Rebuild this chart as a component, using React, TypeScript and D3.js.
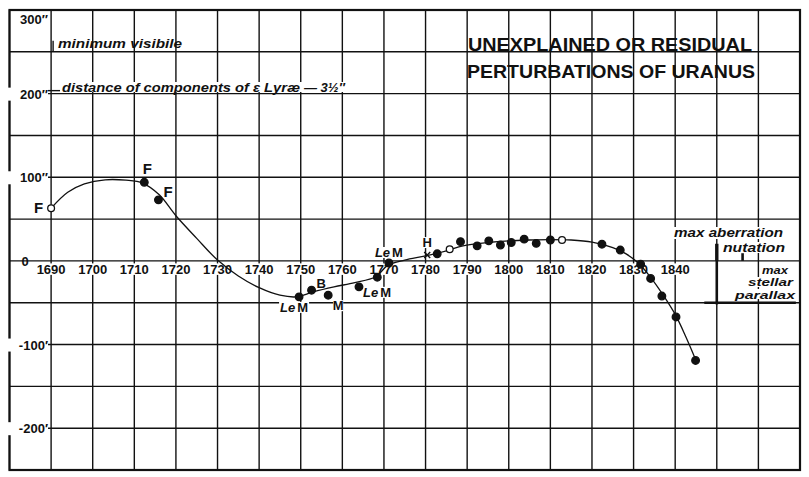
import React from 'react';
import * as d3 from 'd3';

// ---- data ----
const gridYears = [1680, 1690, 1700, 1710, 1720, 1730, 1740, 1750, 1760, 1770, 1780, 1790, 1800, 1810, 1820, 1830, 1840, 1850, 1860, 1870];
const yearTicks = [1690, 1700, 1710, 1720, 1730, 1740, 1750, 1760, 1770, 1780, 1790, 1800, 1810, 1820, 1830, 1840];
const gridValues = [300, 250, 200, 150, 100, 50, 0, -50, -100, -150, -200, -250];
const valueTicks = [300, 200, 100, 0, -100, -200];
const valueTickLabels = ['300″', '200″', '100″', '0', '-100′', '-200′'];

const curveYears = [1690, 1694, 1698, 1703, 1708, 1712, 1716, 1720, 1725, 1730, 1735, 1740, 1745, 1749, 1753, 1758, 1763, 1768, 1771, 1775, 1780, 1785, 1789, 1795, 1800, 1805, 1810, 1815, 1820, 1825, 1828, 1831, 1834, 1837, 1840, 1842.5, 1845];
const curveValues = [63, 82, 92, 97, 96.5, 93, 79, 54, 27, 1, -18, -32, -41, -43, -37, -31, -26, -19, -5, 1, 6, 12, 18, 22, 24, 25, 25.5, 25, 22.5, 16, 9, -2, -19, -40, -64, -90, -119];

const obsYears = [1690, 1712.4, 1715.8, 1749.6, 1752.6, 1756.6, 1764, 1768.4, 1771.2, 1780.4, 1782.8, 1785.8, 1788.4, 1792.4, 1795.2, 1798, 1800.6, 1803.7, 1806.6, 1810, 1812.8, 1822.4, 1826.8, 1831.7, 1834.1, 1836.8, 1840.2, 1844.9];
const obsValues = [63, 94, 73, -43, -35, -41, -31, -19.5, -2.5, 7, 8.5, 14, 23, 18, 24, 19, 22, 26, 21, 25, 25, 20, 13, -4, -21, -42, -67, -119];
const obsMarks = ['open', 'filled', 'filled', 'filled', 'filled', 'filled', 'filled', 'filled', 'filled', 'cross', 'filled', 'open', 'filled', 'filled', 'filled', 'filled', 'filled', 'filled', 'filled', 'filled', 'open', 'filled', 'filled', 'filled', 'filled', 'filled', 'filled', 'filled'];
const obsLabels = ['F', 'F', 'F', 'LeM', 'B', 'M', 'LeM', '', 'LeM', 'H', '', '', '', '', '', '', '', '', '', '', '', '', '', '', '', '', '', ''];

const titleLines = ['UNEXPLAINED OR RESIDUAL', 'PERTURBATIONS OF URANUS'];
const aberrationMax = 20.5;
const nutationMax = 9.2;

// ---- layout (label offsets relative to their point) ----
const labelLayout: Record<number, { dx: number; dy: number; anchor: string }> = {
  0: { dx: -8, dy: 5, anchor: 'end' },
  1: { dx: 3, dy: -8, anchor: 'middle' },
  2: { dx: 5, dy: -3, anchor: 'start' },
  3: { dx: -5, dy: 15, anchor: 'middle' },
  4: { dx: 5, dy: -2, anchor: 'start' },
  5: { dx: 10, dy: 15, anchor: 'middle' },
  6: { dx: 4, dy: 10, anchor: 'start' },
  8: { dx: 0, dy: -6, anchor: 'middle' },
  9: { dx: 0, dy: -8, anchor: 'middle' },
};

const W = 809;
const H = 477;
const FONT = '"Liberation Sans", Arial, sans-serif';

export default function App() {
  const x = d3.scaleLinear().domain([1680, 1870]).range([9.5, 800]);
  const y = d3.scaleLinear().domain([-250, 300]).range([470, 10]);

  const line = d3
    .line<number>()
    .x((_, i) => x(curveYears[i]))
    .y((v) => y(v))
    .curve(d3.curveCatmullRom.alpha(0.5));
  const curvePath = line(curveValues) || '';

  const x0 = x(1680);
  const x1 = x(1870);
  const y0 = y(300);
  const y1 = y(-250);

  return (
    <svg width={W} height={H} style={{ position: 'absolute', left: 0, top: 0, background: '#fff' }}>
      <rect x={0} y={0} width={W} height={H} fill="#fff" />
      {/* grid */}
      <g stroke="#111" strokeWidth={1.4}>
        {gridYears.map((yr) => (
          <line key={'v' + yr} x1={x(yr)} x2={x(yr)} y1={y0} y2={y1} />
        ))}
        {gridValues.map((v) => (
          <line key={'h' + v} x1={x0} x2={x1} y1={y(v)} y2={y(v)} />
        ))}
      </g>
      <rect x={x0} y={y0} width={x1 - x0} height={y1 - y0} fill="none" stroke="#111" strokeWidth={2.2} />

      {/* value tick labels */}
      <g fontFamily={FONT} fontWeight="bold" fontSize={13} fill="#111">
        {valueTicks.map((v, i) => {
          const isTop = v === 300;
          const isZero = v === 0;
          const by = isTop ? y(v) + 14 : y(v) + 5;
          const tx = isZero ? 25 : 48;
          return (
            <g key={'vt' + v}>
              {!isZero && <rect x={isTop ? 11 : 6} y={by - 11} width={isTop ? 37 : 42} height={13} fill="#fff" />}
              <text x={tx} y={by} textAnchor={isZero ? 'middle' : 'end'}>
                {valueTickLabels[i]}
              </text>
            </g>
          );
        })}
      </g>

      {/* year labels */}
      <g fontFamily={FONT} fontWeight="bold" fontSize={13} fill="#111">
        {yearTicks.map((yr) => (
          <g key={'yt' + yr}>
            <rect x={x(yr) - 15} y={y(0) + 2.5} width={30} height={11.5} fill="#fff" />
            <text x={x(yr)} y={y(0) + 13} textAnchor="middle">
              {yr}
            </text>
          </g>
        ))}
      </g>

      {/* title */}
      <g fontFamily={FONT} fontWeight="bold" fontSize={19} fill="#111">
        <text x={468} y={51} textLength={284} lengthAdjust="spacingAndGlyphs">
          {titleLines[0]}
        </text>
        <text x={467} y={78} textLength={288} lengthAdjust="spacingAndGlyphs">
          {titleLines[1]}
        </text>
      </g>

      {/* top-left annotations */}
      <g fontFamily={FONT} fontStyle="italic" fontWeight="bold" fontSize={13} fill="#111">
        <path d={`M${x(1690) + 2},${y(250) - 11}V${y(250)}`} stroke="#111" strokeWidth={1.4} />
        <text x={58} y={48} textLength={124} lengthAdjust="spacingAndGlyphs">
          minimum visibile
        </text>
        <rect x={60} y={82} width={290} height={10} fill="#fff" />
        <line x1={48} x2={60} y1={y(200) - 3} y2={y(200) - 3} stroke="#111" strokeWidth={1.4} />
        <text x={62} y={92} textLength={238} lengthAdjust="spacingAndGlyphs">
          distance of components of ε Lyræ
        </text>
        <text x={304} y={92}>
          — 3½″
        </text>
      </g>

      {/* right annotations */}
      <g fontFamily={FONT} fontStyle="italic" fontWeight="bold" fontSize={13} fill="#111">
        <line x1={x(1850)} x2={x(1850)} y1={y(0)} y2={y(aberrationMax)} stroke="#111" strokeWidth={3.4} />
        <line x1={x(1850)} x2={x(1850)} y1={y(0)} y2={y(-52)} stroke="#111" strokeWidth={2.6} />
        <line x1={x(1856.2)} x2={x(1856.2)} y1={y(0)} y2={y(nutationMax)} stroke="#111" strokeWidth={2.6} />
        <line x1={x(1847)} x2={x(1869)} y1={y(-50)} y2={y(-50)} stroke="#111" strokeWidth={2.4} />
        <rect x={672} y={227} width={113} height={12} fill="#fff" />
        <text x={674} y={237} textLength={109} lengthAdjust="spacingAndGlyphs">
          max aberration
        </text>
        <rect x={722} y={242} width={64} height={11} fill="#fff" />
        <text x={723} y={252} textLength={62} lengthAdjust="spacingAndGlyphs">
          nutation
        </text>
      </g>
      <g fontFamily={FONT} fontStyle="italic" fontWeight="bold" fontSize={11} fill="#111">
        <rect x={760} y={265} width={30} height={10} fill="#fff" />
        <text x={788} y={273.5} textAnchor="end" textLength={26} lengthAdjust="spacingAndGlyphs">
          max
        </text>
        <rect x={746} y={277} width={49} height={10} fill="#fff" />
        <text x={793} y={286} textAnchor="end" textLength={45} lengthAdjust="spacingAndGlyphs">
          stellar
        </text>
        <rect x={733} y={289} width={62} height={10} fill="#fff" />
        <text x={795} y={298.5} textAnchor="end" textLength={60} lengthAdjust="spacingAndGlyphs">
          parallax
        </text>
      </g>

      {/* point labels (background) */}
      <g>
        {obsLabels.map((lab, i) => {
          if (!lab) return null;
          const L = labelLayout[i];
          const px = x(obsYears[i]) + L.dx;
          const py = y(obsValues[i]) + L.dy;
          const w = lab === 'LeM' ? 30 : 10;
          const left = L.anchor === 'middle' ? px - w / 2 : L.anchor === 'end' ? px - w : px;
          return <rect key={'lb' + i} x={left} y={py - 10} width={w} height={11} fill="#fff" />;
        })}
      </g>

      {/* curve */}
      <path d={curvePath} fill="none" stroke="#111" strokeWidth={1.3} />

      {/* observations */}
      <g>
        {obsYears.map((yr, i) => {
          const cx = x(yr);
          const cy = y(obsValues[i]);
          const m = obsMarks[i];
          if (m === 'cross') {
            return (
              <path
                key={'o' + i}
                d={`M${cx - 3},${cy - 3}L${cx + 3},${cy + 3}M${cx - 3},${cy + 3}L${cx + 3},${cy - 3}`}
                stroke="#111"
                strokeWidth={1.4}
              />
            );
          }
          return (
            <circle
              key={'o' + i}
              cx={cx}
              cy={cy}
              r={m === 'open' ? 3.4 : 3.8}
              fill={m === 'open' ? '#fff' : '#111'}
              stroke="#111"
              strokeWidth={1.3}
            />
          );
        })}
      </g>

      {/* point labels */}
      <g fontFamily={FONT} fontSize={13} fill="#111" fontWeight="bold">
        {obsLabels.map((lab, i) => {
          if (!lab) return null;
          const L = labelLayout[i];
          const px = x(obsYears[i]) + L.dx;
          const py = y(obsValues[i]) + L.dy;
          if (lab === 'LeM') {
            return (
              <text key={'l' + i} x={px} y={py} textAnchor={L.anchor as any}>
                <tspan fontStyle="italic">Le</tspan>
                <tspan dx={2}>M</tspan>
              </text>
            );
          }
          return (
            <text key={'l' + i} x={px} y={py} textAnchor={L.anchor as any} fontSize={lab === 'F' ? 15 : 13}>
              {lab}
            </text>
          );
        })}
      </g>
    </svg>
  );
}
